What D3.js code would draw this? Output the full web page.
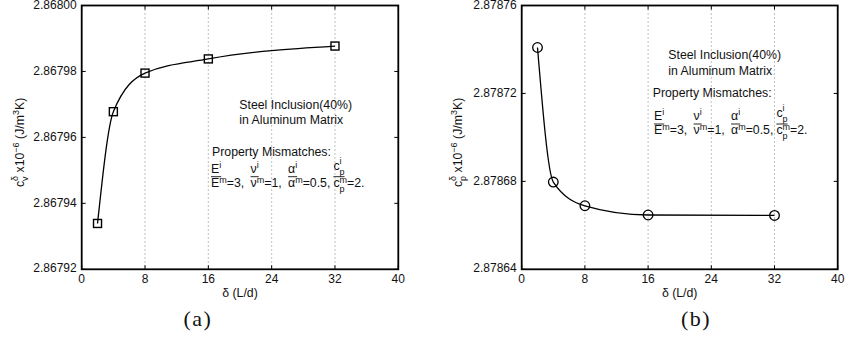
<!DOCTYPE html>
<html>
<head>
<meta charset="utf-8">
<script src="https://cdn.jsdelivr.net/npm/d3@7"></script>
<style>
  body { margin: 0; background: #fff; }
  text { font-family: "Liberation Sans", Arial, sans-serif; fill: #111; white-space: pre; }
</style>
</head>
<body>
<div id="chart"></div>
<script>
// data
const deltas = [2, 4, 8, 16, 32];
const cvValues = [2.8679339, 2.8679678, 2.8679795, 2.8679838, 2.8679877];
const cpValues = [2.8787409, 2.8786797, 2.8786689, 2.8786647, 2.8786645];
const xTicks = [0, 8, 16, 24, 32, 40];
const cvTicks = [2.86792, 2.86794, 2.86796, 2.86798, 2.868];
const cpTicks = [2.87864, 2.87868, 2.87872, 2.87876];
const noteLines = ['Steel Inclusion(40%)', 'in Aluminum Matrix'];
const noteHead = 'Property Mismatches:';

const W = 847, H = 342;
const FS = 12.3, SUP = 9;
const svg = d3.select('#chart').append('svg').attr('width', W).attr('height', H);

// draws a run of text pieces (base, superscript, subscript) left to right
function richText(parent, x, y, segs) {
  let cx = x, prevStart = x;
  segs.forEach((s) => {
    const sx = s.stack ? prevStart : cx;
    const t = parent.append('text')
      .attr('x', sx)
      .attr('y', y + (s.dy || 0))
      .attr('font-size', s.size || FS)
      .text(s.t);
    const w = t.node().getComputedTextLength();
    if (s.stack) {
      cx = Math.max(cx, sx + w);
    } else {
      prevStart = sx;
      cx = sx + w;
    }
  });
  return cx;
}

function drawFractions(g, x0, yNum, yDen, items) {
  let x = x0;
  items.forEach((it) => {
    const numEnd = richText(g, x, yNum, it.num);
    g.append('line')
      .attr('x1', x).attr('x2', numEnd)
      .attr('y1', yNum + 4).attr('y2', yNum + 4)
      .attr('stroke', '#111').attr('stroke-width', 0.9);
    const denEnd = richText(g, x, yDen, it.den);
    x = Math.max(numEnd, denEnd) + 3;
  });
}

const fracItems = [
  { num: [{ t: 'E' }, { t: 'i', dy: -5, size: SUP }],
    den: [{ t: 'E' }, { t: 'm', dy: -4, size: SUP }, { t: '=3, ' }] },
  { num: [{ t: 'ν' }, { t: 'i', dy: -5, size: SUP }],
    den: [{ t: 'ν' }, { t: 'm', dy: -4, size: SUP }, { t: '=1, ' }] },
  { num: [{ t: 'α' }, { t: 'i', dy: -5, size: SUP }],
    den: [{ t: 'α' }, { t: 'm', dy: -4, size: SUP }, { t: '=0.5,' }] },
  { num: [{ t: 'c', dy: -3 }, { t: 'i', dy: -9, size: SUP }, { t: 'p', dy: 2, size: SUP, stack: true }],
    den: [{ t: 'c' }, { t: 'm', dy: -4, size: SUP }, { t: 'p', dy: 5, size: SUP, stack: true }, { t: '=2.' }] },
];

const panels = [
  {
    values: cvValues, yTicks: cvTicks, marker: 'square', sub: 'v', caption: '(a)',
    left: 81.7, right: 398.3, top: 5.5, bottom: 269.3,
    labelX: 24, captionX: 198,
    noteX: 239.3, noteY: [109.3, 124.3], headX: 212, headY: 155.5,
    fracX: 211, fracNum: 172.7, fracDen: 186.7,
  },
  {
    values: cpValues, yTicks: cpTicks, marker: 'circle', sub: 'p', caption: '(b)',
    left: 521.7, right: 837.7, top: 5.5, bottom: 269.3,
    labelX: 462, captionX: 696,
    noteX: 668.3, noteY: [59.3, 75], headX: 652.7, headY: 97.3,
    fracX: 654, fracNum: 120, fracDen: 134,
  },
];

panels.forEach((p) => {
  const g = svg.append('g');
  const x = d3.scaleLinear().domain([0, 40]).range([p.left, p.right]);
  const y = d3.scaleLinear()
    .domain([p.yTicks[0], p.yTicks[p.yTicks.length - 1]])
    .range([p.bottom, p.top]);
  const fmt = d3.format('.5f');

  // dotted vertical grid
  g.selectAll('.grid')
    .data(xTicks)
    .join('line')
    .attr('x1', (d) => x(d)).attr('x2', (d) => x(d))
    .attr('y1', p.top).attr('y2', p.bottom)
    .attr('stroke', '#666').attr('stroke-width', 0.8)
    .attr('stroke-dasharray', '1,3');

  // inward ticks on all four sides
  const tl = 4;
  xTicks.forEach((t) => {
    g.append('line').attr('x1', x(t)).attr('x2', x(t)).attr('y1', p.bottom).attr('y2', p.bottom - tl).attr('stroke', '#000');
    g.append('line').attr('x1', x(t)).attr('x2', x(t)).attr('y1', p.top).attr('y2', p.top + tl).attr('stroke', '#000');
  });
  p.yTicks.forEach((t) => {
    g.append('line').attr('x1', p.left).attr('x2', p.left + tl).attr('y1', y(t)).attr('y2', y(t)).attr('stroke', '#000');
    g.append('line').attr('x1', p.right).attr('x2', p.right - tl).attr('y1', y(t)).attr('y2', y(t)).attr('stroke', '#000');
  });

  // tick labels
  g.selectAll('.xt')
    .data(xTicks)
    .join('text')
    .attr('x', (d) => x(d)).attr('y', p.bottom + 14)
    .attr('text-anchor', 'middle').attr('font-size', 12)
    .text((d) => d);
  g.selectAll('.yt')
    .data(p.yTicks)
    .join('text')
    .attr('x', p.left - 5).attr('y', (d) => y(d))
    .attr('text-anchor', 'end').attr('dominant-baseline', 'middle').attr('font-size', 12)
    .text((d) => fmt(d));

  // box
  g.append('rect')
    .attr('x', p.left).attr('y', p.top)
    .attr('width', p.right - p.left).attr('height', p.bottom - p.top)
    .attr('fill', 'none').attr('stroke', '#000').attr('stroke-width', 1.8);

  // curve
  const pts = deltas.map((d, i) => [d, p.values[i]]);
  g.append('path')
    .datum(pts)
    .attr('d', d3.line().x((d) => x(d[0])).y((d) => y(d[1])).curve(d3.curveMonotoneX))
    .attr('fill', 'none').attr('stroke', '#000').attr('stroke-width', 1.3);

  // markers
  if (p.marker === 'square') {
    g.selectAll('.mk').data(pts).join('rect')
      .attr('x', (d) => x(d[0]) - 4).attr('y', (d) => y(d[1]) - 4)
      .attr('width', 8).attr('height', 8)
      .attr('fill', 'none').attr('stroke', '#000').attr('stroke-width', 1.4);
  } else {
    g.selectAll('.mk').data(pts).join('circle')
      .attr('cx', (d) => x(d[0])).attr('cy', (d) => y(d[1]))
      .attr('r', 4.8)
      .attr('fill', 'none').attr('stroke', '#000').attr('stroke-width', 1.3);
  }

  // x label
  g.append('text')
    .attr('x', (p.left + p.right) / 2).attr('y', p.bottom + 28)
    .attr('text-anchor', 'middle').attr('font-size', FS)
    .text('δ (L/d)');

  // y label (rotated)
  const yl = g.append('g')
    .attr('transform', `translate(${p.labelX},${(p.top + p.bottom) / 2 + 5}) rotate(-90)`);
  const inner = yl.append('g');
  const len = richText(inner, 0, 0, [
    { t: 'c' },
    { t: 'δ', dy: -6, size: SUP },
    { t: p.sub, dy: 4, size: SUP, stack: true },
    { t: ' x10' },
    { t: '−6', dy: -5, size: SUP },
    { t: ' (J/m' },
    { t: '3', dy: -5, size: SUP },
    { t: 'K)' },
  ]);
  inner.attr('transform', `translate(${-len / 2},0)`);

  // annotation
  noteLines.forEach((s, i) => {
    g.append('text').attr('x', p.noteX).attr('y', p.noteY[i]).attr('font-size', FS).text(s);
  });
  g.append('text').attr('x', p.headX).attr('y', p.headY).attr('font-size', FS).text(noteHead);
  drawFractions(g, p.fracX, p.fracNum, p.fracDen, fracItems);

  // caption
  g.append('text')
    .attr('x', p.captionX).attr('y', 326)
    .attr('text-anchor', 'middle')
    .style('font-family', '"Liberation Serif", "DejaVu Serif", serif')
    .attr('font-size', 22).attr('letter-spacing', 1.5)
    .text(p.caption);
});
</script>
</body>
</html>
